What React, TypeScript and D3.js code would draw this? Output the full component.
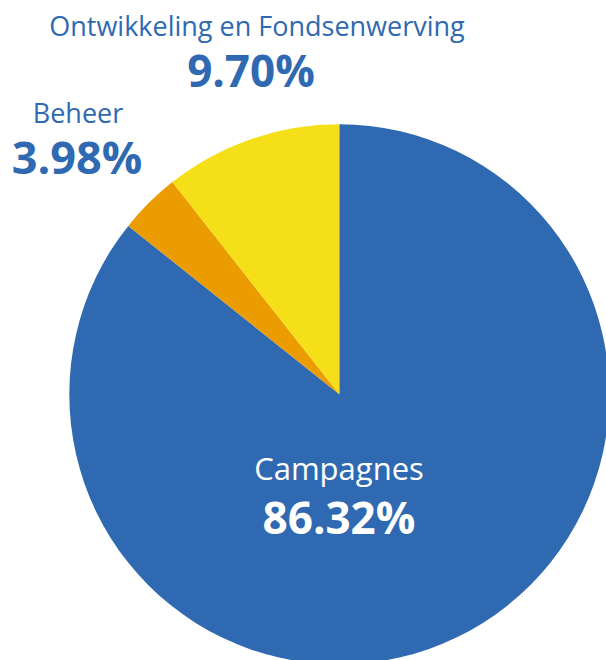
import React from "react";
import * as d3 from "d3";

const categories = ["Campagnes", "Beheer", "Ontwikkeling en Fondsenwerving"];
// slice sizes as drawn in the picture (angles measured)
const values = [85.72, 3.67, 10.61];
const valueLabels = ["86.32%", "3.98%", "9.70%"];
const colors = ["#2f69b1", "#ea9c00", "#f5df18"];

const W = 606;
const H = 660;
const cx = 339.3;
const cy = 394.3;
const R = 270;

export default function App() {
  const pie = d3.pie<number>().sort(null).value((d) => d);
  const arcs = pie(values);
  const arc = d3.arc<d3.PieArcDatum<number>>().innerRadius(0).outerRadius(R);
  const font = "'Open Sans', 'Noto Sans', sans-serif";
  const blue = "#2f69b1";
  return (
    <div style={{ position: "absolute", left: 0, top: 0 }}>
      <svg width={W} height={H} style={{ display: "block" }}>
        <rect width={W} height={H} fill="#ffffff" />
        <g transform={`translate(${cx},${cy})`}>
          {arcs.map((a, i) => (
            <path key={categories[i]} d={arc(a) || ""} fill={colors[i]} />
          ))}
        </g>
        <g fontFamily={font} textAnchor="middle">
          <text x={257} y={36} fontSize={27} fill={blue}>{categories[2]}</text>
          <text x={251} y={87} fontSize={44} fontWeight={700} fill={blue}>{valueLabels[2]}</text>
          <text x={78} y={123} fontSize={27} fill={blue}>{categories[1]}</text>
          <text x={77} y={174} fontSize={45} fontWeight={700} fill={blue}>{valueLabels[1]}</text>
          <text x={339} y={480} fontSize={31} fill="#ffffff">{categories[0]}</text>
          <text x={339} y={534} fontSize={44} fontWeight={700} fill="#ffffff">{valueLabels[0]}</text>
        </g>
      </svg>
    </div>
  );
}
